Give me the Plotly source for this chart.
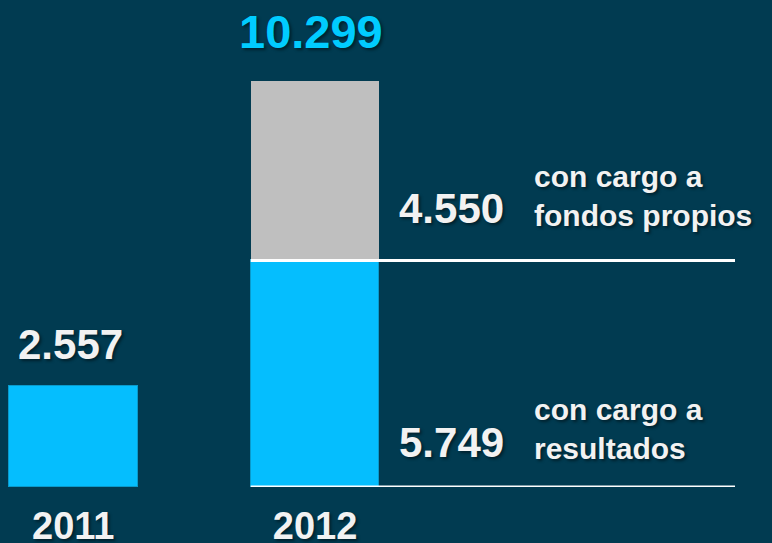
import plotly.graph_objects as go

# values
years = ["2011", "2012"]
x_pos = [0, 1]
resultados = [2557, 5749]      # blue part
fondos = [0, 4550]             # grey part (only 2012)
totals = [2557, 10299]
split_labels = ["con cargo a<br>fondos propios", "con cargo a<br>resultados"]

BG = "#013B51"
BLUE = "#05BEFE"
GREY = "#BFBFBF"
CYAN = "#00CCFF"
WHITE = "#F2F2F2"
FONT = "Arial, Liberation Sans, sans-serif"
SHADOW = "2px 2px 3px rgba(0,0,0,0.45)"
BAR_W = 0.532

fig = go.Figure()
fig.add_trace(go.Bar(
    x=x_pos, y=resultados, width=BAR_W,
    marker={"color": BLUE, "line": {"color": "#0A9ACB", "width": 1}},
    hoverinfo="skip",
))
fig.add_trace(go.Bar(
    x=x_pos, y=fondos, width=BAR_W,
    marker={"color": GREY, "line": {"width": 0}},
    hoverinfo="skip",
))

# white rules at the base and at the split of the 2012 bar
line_x0 = x_pos[1] - BAR_W / 2
line_x1 = 2.737
for yv in [0, resultados[1]]:
    fig.add_shape(type="line", xref="x", yref="y",
                  x0=line_x0, x1=line_x1, y0=yv, y1=yv,
                  line={"color": "white", "width": 3}, layer="above")

ann = []
# totals above the bars
ann.append(dict(x=x_pos[0], y=totals[0], text=f"{totals[0]:,}".replace(",", "."),
                yanchor="bottom", yshift=16, xshift=-3,
                font={"size": 42, "color": WHITE, "weight": "bold", "shadow": SHADOW}))
ann.append(dict(x=x_pos[1], y=totals[1], text=f"{totals[1]:,}".replace(",", "."),
                yanchor="bottom", yshift=21, xshift=-4,
                font={"size": 47, "color": CYAN, "weight": "bold", "shadow": SHADOW}))

# split values and their captions
seg_vals = [fondos[1], resultados[1]]
num_y = [7056, 1142]
cap_y = [7396, 1472]
for v, ny, cy, cap in zip(seg_vals, num_y, cap_y, split_labels):
    ann.append(dict(x=1.339, y=ny, text=f"{v:,}".replace(",", "."),
                    xanchor="left", yanchor="middle",
                    font={"size": 42, "color": WHITE, "weight": "bold", "shadow": SHADOW}))
    ann.append(dict(x=1.898, y=cy, text=cap, align="left",
                    xanchor="left", yanchor="middle",
                    font={"size": 30, "color": WHITE, "weight": "bold", "shadow": SHADOW}))

for a in ann:
    a.update(xref="x", yref="y", showarrow=False)

fig.update_layout(
    width=772, height=543,
    margin={"l": 0, "r": 0, "t": 0, "b": 56},
    paper_bgcolor=BG, plot_bgcolor=BG,
    barmode="stack", bargap=0, showlegend=False,
    font={"family": FONT, "color": WHITE},
    annotations=ann,
    xaxis={
        "range": [-0.303, 2.890],
        "tickvals": x_pos, "ticktext": years,
        "tickfont": {"size": 38, "color": WHITE, "weight": "bold", "shadow": SHADOW},
        "showgrid": False, "zeroline": False, "showline": False, "ticks": "",
        "ticklabelstandoff": 13, "automargin": False,
    },
    yaxis={"range": [0, 12360], "visible": False},
)

# drop the page's default body margin so the chart sits at 0,0
fig.write_html("out.html", config={"displayModeBar": False},
               post_script="document.body.style.margin='0';")
